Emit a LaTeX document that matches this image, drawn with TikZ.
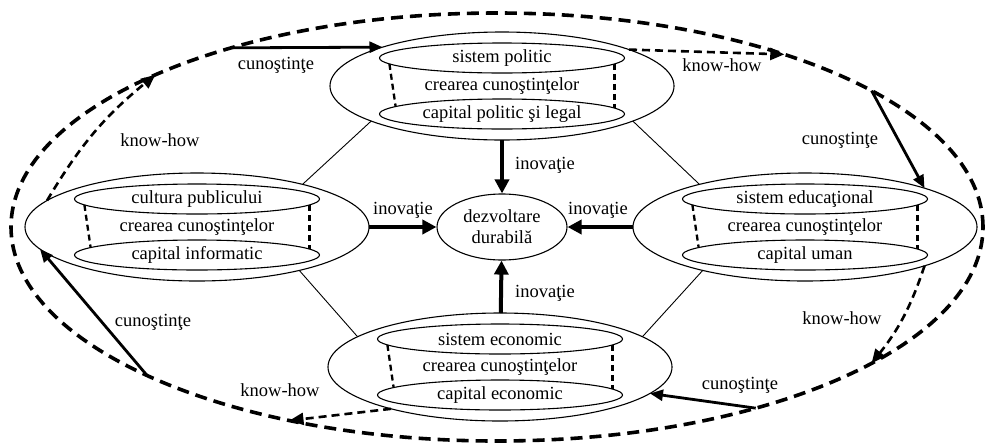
\documentclass[tikz,border=0pt]{standalone}
\usepackage{fontspec}
\setmainfont{Liberation Serif}
\usetikzlibrary{shapes.geometric,arrows.meta}
\newcommand{\kbnode}[4]{%
  \node[outerell] (#1) at (#2) {crearea cunoştinţelor};
  \node[layer,yshift=28pt] (#1t) at (#1) {#3};
  \node[layer,yshift=-28pt] (#1b) at (#1) {#4};
  \draw[wall] (#1t.-3.9) -- (#1b.3.9);
  \draw[wall] (#1t.183.9) -- (#1b.176.1);
}
\begin{document}
\begin{tikzpicture}[x=1pt,y=1pt,
  every node/.style={font=\fontsize{18.5}{21}\selectfont},
  outerell/.style={ellipse,draw,line width=1.1pt,minimum width=344pt,minimum height=108pt,inner sep=0pt,outer sep=0pt},
  layer/.style={ellipse,draw,line width=1.1pt,minimum width=245pt,minimum height=30pt,inner sep=0pt,outer sep=0pt},
  wall/.style={line width=2.3pt,dash pattern=on 6pt off 4pt},
  hexline/.style={line width=0.9pt},
  inov/.style={line width=4pt,-{Triangle[length=14pt,width=14pt]}},
  know/.style={line width=2.6pt,dash pattern=on 8pt off 5pt,-{Triangle[length=14pt,width=12pt]}},
  cun/.style={line width=2.8pt,-{Triangle[length=13pt,width=11pt]}},
  lbl/.style={inner sep=1pt},
]
\useasboundingbox (0,0) rectangle (987,-445);

\node[ellipse,draw,line width=3.6pt,dash pattern=on 12pt off 7pt,minimum width=972pt,minimum height=428pt,inner sep=0pt,outer sep=0pt] (cyc) at (497,-227) {};

\kbnode{T}{502,-86}{sistem politic}{capital politic şi legal}
\kbnode{L}{197,-227}{cultura publicului}{capital informatic}
\kbnode{R}{805,-227}{sistem educaţional}{capital uman}
\kbnode{B}{500,-367}{sistem economic}{capital economic}

\node[ellipse,draw,line width=1.1pt,minimum width=130pt,minimum height=66pt,inner sep=0pt,align=center] (D) at (502,-227) {dezvoltare\\durabilă};

% innovation arrows
\draw[inov] (T) -- (D);
\draw[inov] (L) -- (D);
\draw[inov] (R) -- (D);
\draw[inov] (B) -- (D);
\node[lbl] (i1) at (545,-165) {inovaţie};
\node[lbl] (i2) at (403,-210) {inovaţie};
\node[lbl] (i3) at (598,-210) {inovaţie};
\node[lbl] (i4) at (545,-293) {inovaţie};

% hexagon lines
\draw[hexline] (T.195) -- (L.22);
\draw[hexline] (T.-15) -- (R.158);
\draw[hexline] (L.-23) -- (B.168);
\draw[hexline] (R.203) -- (B.12);

% knowledge cycle
\draw[cun] (cyc.146.2) -- (T.162.7);
\draw[know] (L.170) to[bend left=10] (cyc.156.5);
\draw[know] (T.16.9) -- (cyc.31.7);
\draw[cun] (cyc.20.3) -- (R.18);
\draw[know] (R.-18.4) to[bend left=10] (cyc.-20.7);
\draw[cun] (cyc.-35.6) -- (B.-10.9);
\draw[know] (B.201) -- (cyc.223.7);
\draw[cun] (cyc.203.8) -- (L.188.4);

\node[lbl] (c1) at (276,-65) {cunoştinţe};
\node[lbl] (k1) at (160,-140) {know-how};
\node[lbl] (k2) at (722,-65) {know-how};
\node[lbl] (c2) at (840,-140) {cunoştinţe};
\node[lbl] (k3) at (842,-318) {know-how};
\node[lbl] (c3) at (740,-385) {cunoştinţe};
\node[lbl] (k4) at (280,-390) {know-how};
\node[lbl] (c4) at (153,-322) {cunoştinţe};
\end{tikzpicture}
\end{document}
